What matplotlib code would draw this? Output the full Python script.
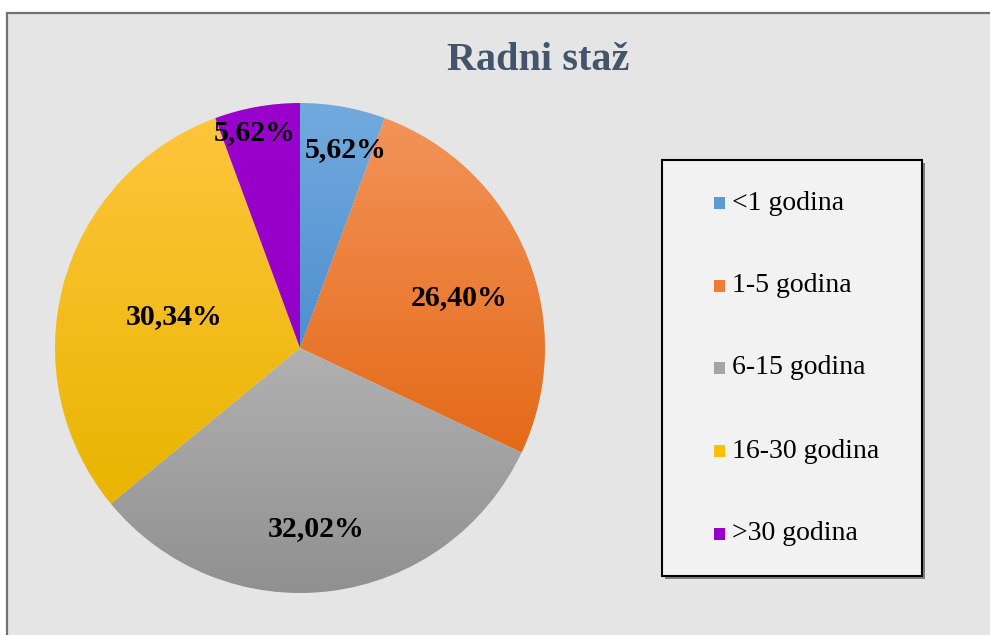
import numpy as np
import matplotlib
matplotlib.use("Agg")
import matplotlib.pyplot as plt
from matplotlib.patches import Rectangle
from matplotlib.colors import LinearSegmentedColormap

# data
categories = ["<1 godina", "1-5 godina", "6-15 godina", "16-30 godina", ">30 godina"]
shares = [5.62, 26.40, 32.02, 30.34, 5.62]
labels = ["5,62%", "26,40%", "32,02%", "30,34%", "5,62%"]

# (top, bottom) gradient colours per slice
grad_colors = [("#72aadd", "#4f8fd0"),
               ("#f39358", "#e46a18"),
               ("#b1b1b1", "#909090"),
               ("#ffc53c", "#e8b500"),
               ("#9a00cc", "#9500c8")]
legend_colors = ["#5b9bd5", "#ed7d31", "#a5a5a5", "#ffc000", "#9900cc"]
# label placement: fraction of radius and angle nudge (deg) from slice middle
label_r = [0.83, 0.68, 0.74, 0.53, 0.90]
label_dt = [-3.0, -4.8, -2.0, 1.0, 1.7]

W, H = 990, 635
fig = plt.figure(figsize=(W / 100, H / 100), dpi=100)
fig.patch.set_facecolor("white")

# chart area with border (right and bottom run off the image)
fig.patches.append(Rectangle((7 / W, -0.02), 1.05, 1 - 13 / H + 0.02,
                             transform=fig.transFigure, facecolor="#e5e5e5",
                             edgecolor="#767171", linewidth=1.6, zorder=-5))

fig.text(538 / W, 1 - 61 / H, "Radni staž", ha="center", va="center",
         family="Liberation Serif", fontweight="bold", fontsize=29, color="#44546a")

# pie
cx, cy, R = 300, 348, 245
ax = fig.add_axes([(cx - R) / W, (H - cy - R) / H, 2 * R / W, 2 * R / H])
ax.set_axis_off()
wedges, _ = ax.pie(shares, startangle=90, counterclock=False, radius=1.0,
                   wedgeprops=dict(linewidth=0))

for w, (top, bot), lab, rf, dt in zip(wedges, grad_colors, labels, label_r, label_dt):
    w.set_facecolor("none")
    ext = w.get_path().get_extents()
    cmap = LinearSegmentedColormap.from_list("g", [bot, top])
    grad = np.linspace(0, 1, 256).reshape(-1, 1)
    im = ax.imshow(grad, cmap=cmap, origin="lower", aspect="auto",
                   extent=[ext.x0, ext.x1, ext.y0, ext.y1], interpolation="bilinear")
    im.set_clip_path(w)
    ang = np.deg2rad((w.theta1 + w.theta2) / 2 + dt)
    ax.text(rf * np.cos(ang), rf * np.sin(ang), lab, ha="center", va="center",
            family="Liberation Serif", fontweight="bold", fontsize=21.5, color="black")

ax.set_xlim(-1, 1)
ax.set_ylim(-1, 1)
ax.set_aspect("auto")

# legend box drawn by hand
lx0, ly0, lx1, ly1 = 662, 160, 922, 576
fig.patches.append(Rectangle(((lx0 + 3) / W, (H - ly1 - 3) / H), (lx1 - lx0) / W, (ly1 - ly0) / H,
                             transform=fig.transFigure, facecolor="#7f7f7f",
                             edgecolor="none", zorder=1))
fig.patches.append(Rectangle((lx0 / W, (H - ly1) / H), (lx1 - lx0) / W, (ly1 - ly0) / H,
                             transform=fig.transFigure, facecolor="#f2f2f2",
                             edgecolor="black", linewidth=1.5, zorder=2))
row_y = [203, 286, 368, 451, 534]
for name, col, yy in zip(categories, legend_colors, row_y):
    fig.patches.append(Rectangle((714 / W, (H - yy - 6) / H), 11 / W, 12 / H,
                                 transform=fig.transFigure, facecolor=col,
                                 edgecolor="none", zorder=3))
    fig.text(732 / W, 1 - yy / H, name, ha="left", va="center",
             family="Liberation Serif", fontsize=20, color="black", zorder=4)

fig.savefig("out.png", dpi=100)
